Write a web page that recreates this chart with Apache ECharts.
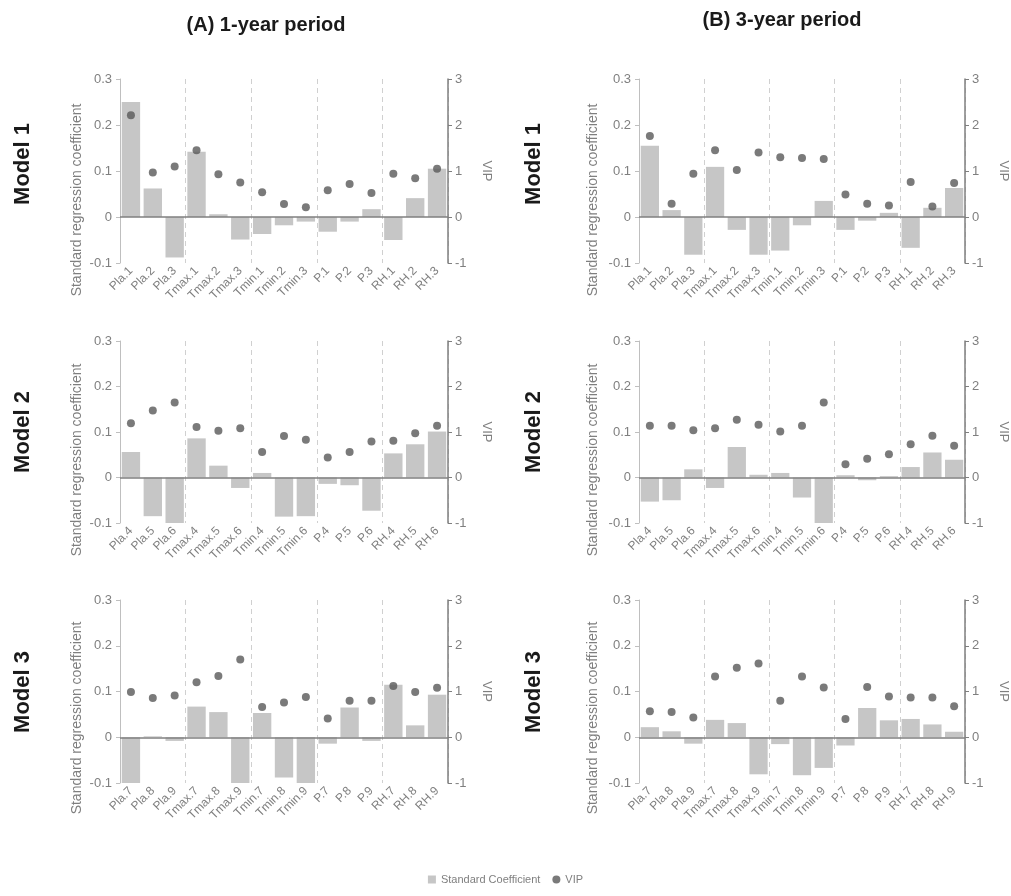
<!DOCTYPE html>
<html>
<head>
<meta charset="utf-8">
<script src="https://cdn.jsdelivr.net/npm/echarts@6/dist/echarts.min.js"></script>
<style>
html,body{margin:0;padding:0;background:#fff;}
#chart{width:1011px;height:896px;}
</style>
</head>
<body>
<div id="chart"></div>
<script>
// ---- Data ----
var catsModel1 = ['Pla.1','Pla.2','Pla.3','Tmax.1','Tmax.2','Tmax.3','Tmin.1','Tmin.2','Tmin.3','P.1','P.2','P.3','RH.1','RH.2','RH.3'];
var catsModel2 = ['Pla.4','Pla.5','Pla.6','Tmax.4','Tmax.5','Tmax.6','Tmin.4','Tmin.5','Tmin.6','P.4','P.5','P.6','RH.4','RH.5','RH.6'];
var catsModel3 = ['Pla.7','Pla.8','Pla.9','Tmax.7','Tmax.8','Tmax.9','Tmin.7','Tmin.8','Tmin.9','P.7','P.8','P.9','RH.7','RH.8','RH.9'];

// (A) 1-year period
var coefA1 = [0.250,0.062,-0.088,0.142,0.006,-0.049,-0.037,-0.018,-0.010,-0.032,-0.010,0.017,-0.050,0.041,0.105];
var vipA1  = [2.21,0.97,1.10,1.45,0.93,0.75,0.54,0.28,0.21,0.58,0.72,0.52,0.94,0.84,1.05];
var coefA2 = [0.056,-0.085,-0.101,0.086,0.026,-0.023,0.010,-0.086,-0.085,-0.014,-0.017,-0.073,0.053,0.073,0.101];
var vipA2  = [1.19,1.47,1.65,1.11,1.03,1.08,0.56,0.91,0.83,0.44,0.56,0.79,0.81,0.97,1.14];
var coefA3 = [-0.100,0.002,-0.008,0.067,0.055,-0.100,0.053,-0.088,-0.100,-0.014,0.065,-0.008,0.115,0.026,0.093];
var vipA3  = [0.99,0.86,0.91,1.20,1.34,1.70,0.66,0.76,0.88,0.41,0.80,0.80,1.12,0.99,1.08];

// (B) 3-year period
var coefB1 = [0.155,0.015,-0.082,0.109,-0.028,-0.082,-0.073,-0.018,0.035,-0.028,-0.008,0.009,-0.067,0.020,0.063];
var vipB1  = [1.76,0.29,0.94,1.45,1.02,1.40,1.30,1.28,1.26,0.49,0.29,0.25,0.76,0.23,0.74];
var coefB2 = [-0.053,-0.050,0.018,-0.023,0.067,0.006,0.010,-0.044,-0.100,0.005,-0.006,0.003,0.023,0.055,0.039];
var vipB2  = [1.14,1.14,1.04,1.08,1.27,1.16,1.01,1.14,1.65,0.29,0.41,0.51,0.73,0.92,0.70];
var coefB3 = [0.022,0.013,-0.014,0.038,0.031,-0.081,-0.015,-0.083,-0.067,-0.018,0.064,0.037,0.040,0.028,0.012];
var vipB3  = [0.57,0.55,0.43,1.33,1.52,1.61,0.80,1.33,1.09,0.40,1.10,0.89,0.87,0.87,0.68];

var columnTitles = ['(A) 1-year period','(B) 3-year period'];
var rowTitles = ['Model 1','Model 2','Model 3'];
var coefAxisName = 'Standard regression coefficient';
var vipAxisName = 'VIP';
var coefTicks = [-0.1, 0.3, 0.1]; // min, max, interval
var vipTicks = [-1, 3, 1];

// ---- Layout ----
var colLeft = [120, 639];
var gridWidth = 328;
var rowTop = [79, 341, 600];
var rowHeight = [184, 182, 183];

var panels = [
  {col:0,row:0,cats:catsModel1,coef:coefA1,vip:vipA1},
  {col:0,row:1,cats:catsModel2,coef:coefA2,vip:vipA2},
  {col:0,row:2,cats:catsModel3,coef:coefA3,vip:vipA3},
  {col:1,row:0,cats:catsModel1,coef:coefB1,vip:vipB1},
  {col:1,row:1,cats:catsModel2,coef:coefB2,vip:vipB2},
  {col:1,row:2,cats:catsModel3,coef:coefB3,vip:vipB3}
];

var FONT = 'Liberation Sans';
var GRAY = '#7f7f7f';
var grids=[], xAxes=[], yAxes=[], series=[], graphics=[];

panels.forEach(function(p, i){
  grids.push({left: colLeft[p.col], top: rowTop[p.row], width: gridWidth, height: rowHeight[p.row]});
  xAxes.push({
    type:'category', gridIndex:i, data:p.cats,
    axisLine:{show:false, onZero:false}, axisTick:{show:false},
    axisLabel:{rotate:45, fontSize:12, color:GRAY, fontFamily:FONT, margin:6, interval:0},
    splitLine:{show:true, interval:function(idx){return idx===3||idx===6||idx===9||idx===12;},
      lineStyle:{color:'#d0d0d0', type:[5,4], width:1}}
  });
  yAxes.push({
    type:'value', gridIndex:i, min:coefTicks[0], max:coefTicks[1], interval:coefTicks[2],
    axisLine:{show:true, lineStyle:{color:'#bfbfbf'}},
    axisTick:{show:true, length:4, lineStyle:{color:'#bfbfbf'}},
    axisLabel:{fontSize:13, color:GRAY, fontFamily:FONT, margin:8,
      formatter:function(v){return v===0?'0':v.toFixed(1);}},
    splitLine:{show:false}
  });
  yAxes.push({
    type:'value', gridIndex:i, position:'right', min:vipTicks[0], max:vipTicks[1], interval:vipTicks[2],
    name:vipAxisName, nameLocation:'middle', nameRotate:-90, nameGap:32,
    nameTextStyle:{fontSize:13, color:GRAY, fontFamily:FONT},
    axisLine:{show:true, lineStyle:{color:GRAY, width:1.5}},
    axisTick:{show:true, length:4, lineStyle:{color:GRAY}},
    axisLabel:{fontSize:13, color:GRAY, fontFamily:FONT, margin:7},
    splitLine:{show:false}
  });
  series.push({
    name:'Standard Coefficient', type:'bar', xAxisIndex:i, yAxisIndex:2*i, data:p.coef,
    barCategoryGap:'16%', itemStyle:{color:'#c6c6c6'}, z:2,
    markLine:{silent:true, symbol:'none', label:{show:false},
      lineStyle:{color:GRAY, width:1.5, type:'solid'}, data:[{yAxis:0}]}
  });
  series.push({
    name:'VIP', type:'scatter', xAxisIndex:i, yAxisIndex:2*i+1, data:p.vip,
    symbol:'circle', symbolSize:8, itemStyle:{color:'#595959'}, z:3
  });
});

// column titles
graphics.push({type:'text', x:266, y:25, style:{text:columnTitles[0], font:'bold 20px '+FONT, fill:'#1a1a1a', textAlign:'center', textVerticalAlign:'middle'}});
graphics.push({type:'text', x:782, y:20, style:{text:columnTitles[1], font:'bold 20px '+FONT, fill:'#1a1a1a', textAlign:'center', textVerticalAlign:'middle'}});
// row titles
var rowLabelY = [164, 432, 692];
var rowLabelX = [23, 534];
rowLabelX.forEach(function(x){
  rowTitles.forEach(function(t, r){
    graphics.push({type:'text', x:x, y:rowLabelY[r], rotation:Math.PI/2,
      style:{text:t, font:'bold 22px '+FONT, fill:'#1a1a1a', textAlign:'center', textVerticalAlign:'middle'}});
  });
});
// left axis names (centred on plot + labels, as in the reference)
var nameX = [77, 593];
var nameY = [200, 460, 718];
nameX.forEach(function(x){
  nameY.forEach(function(y){
    graphics.push({type:'text', x:x, y:y, rotation:Math.PI/2,
      style:{text:coefAxisName, font:'14px '+FONT, fill:GRAY, textAlign:'center', textVerticalAlign:'middle'}});
  });
});

var chart = echarts.init(document.getElementById('chart'), null, {renderer:'canvas'});
chart.setOption({
  animation:false,
  backgroundColor:'#ffffff',
  grid:grids, xAxis:xAxes, yAxis:yAxes, series:series, graphic:graphics,
  legend:{
    bottom:6, left:'center', itemWidth:8, itemHeight:8, itemGap:12,
    textStyle:{fontSize:11, color:GRAY, fontFamily:FONT},
    data:[{name:'Standard Coefficient', icon:'rect', itemStyle:{color:'#c6c6c6'}},
          {name:'VIP', icon:'circle', itemStyle:{color:'#595959'}}]
  }
});
</script>
</body>
</html>
